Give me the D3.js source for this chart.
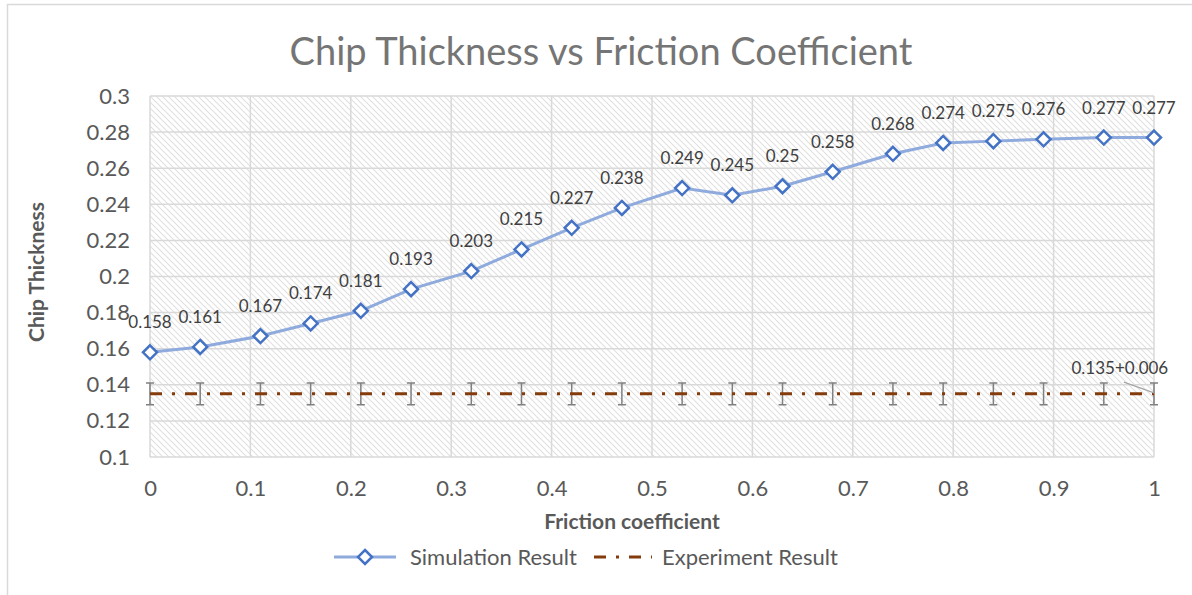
<!DOCTYPE html>
<meta charset='utf-8'>
<title>Chip Thickness vs Friction Coefficient</title>
<style>
body {
  margin: 0;
  background-color: #fff;
}
svg text {
  font-family: Lato, "Open Sans", sans-serif;
}
</style>
<svg width="1192" height="595"></svg>
<script src="https://d3js.org/d3.v7.min.js"></script>
<script>

// friction coefficients (x) and simulated chip thickness (y)
var friction = [0, 0.05, 0.11, 0.16, 0.21, 0.26, 0.32, 0.37, 0.42, 0.47,
                0.53, 0.58, 0.63, 0.68, 0.74, 0.79, 0.84, 0.89, 0.95, 1];
var simulation = [0.158, 0.161, 0.167, 0.174, 0.181, 0.193, 0.203, 0.215, 0.227, 0.238,
                  0.249, 0.245, 0.25, 0.258, 0.268, 0.274, 0.275, 0.276, 0.277, 0.277];
var experiment = friction.map(function() { return 0.135; });
var experimentError = 0.006;
var xTicks = [0, 0.1, 0.2, 0.3, 0.4, 0.5, 0.6, 0.7, 0.8, 0.9, 1];
var yTicks = [0.1, 0.12, 0.14, 0.16, 0.18, 0.2, 0.22, 0.24, 0.26, 0.28, 0.3];

var svg = d3.select("svg");

var plotLeft = 150, plotRight = 1154, plotTop = 96, plotBottom = 457;

var x = d3.scaleLinear().domain([0, 1]).range([plotLeft, plotRight]);
var y = d3.scaleLinear().domain([0.1, 0.3]).range([plotBottom, plotTop]);

// hatch fill for the plot area
var defs = svg.append("defs");
var hatch = defs.append("pattern")
    .attr("id", "hatch")
    .attr("patternUnits", "userSpaceOnUse")
    .attr("width", 6)
    .attr("height", 6);
hatch.append("rect").attr("width", 6).attr("height", 6).attr("fill", "#fff");
hatch.append("path")
    .attr("d", "M-1,-1L7,7M-4,2L2,8M4,-2L8,2")
    .attr("stroke", "#e0e0e0")
    .attr("stroke-width", 1.1);

// chart border (only the left/top edges are visible in the frame)
svg.append("rect")
    .attr("x", 7.5).attr("y", 4.5)
    .attr("width", 1200).attr("height", 600)
    .attr("fill", "#fff")
    .attr("stroke", "#d9d9d9")
    .attr("stroke-width", 1.5);

svg.append("rect")
    .attr("x", plotLeft).attr("y", plotTop)
    .attr("width", plotRight - plotLeft).attr("height", plotBottom - plotTop)
    .attr("fill", "url(#hatch)");

// gridlines
svg.append("g")
    .selectAll("line")
    .data(yTicks)
  .enter().append("line")
    .attr("x1", plotLeft).attr("x2", plotRight)
    .attr("y1", function(d) { return y(d); })
    .attr("y2", function(d) { return y(d); })
    .attr("stroke", "#d9d9d9")
    .attr("stroke-width", 1.5);

svg.append("g")
    .selectAll("line")
    .data(xTicks)
  .enter().append("line")
    .attr("y1", plotTop).attr("y2", plotBottom)
    .attr("x1", function(d) { return x(d); })
    .attr("x2", function(d) { return x(d); })
    .attr("stroke", "#d9d9d9")
    .attr("stroke-width", 1.5);

// axes (labels only)
var xAxis = svg.append("g")
    .attr("transform", "translate(0," + plotBottom + ")")
    .call(d3.axisBottom(x).tickValues(xTicks).tickSize(0).tickPadding(23).tickFormat(d3.format("")));
var yAxis = svg.append("g")
    .attr("transform", "translate(" + plotLeft + ",0)")
    .call(d3.axisLeft(y).tickValues(yTicks).tickSize(0).tickPadding(20).tickFormat(function(d) { return d3.format("")(+d.toFixed(2)); }));
[xAxis, yAxis].forEach(function(a) {
  a.select(".domain").remove();
  a.selectAll("text")
      .attr("fill", "#595959")
      .style("font-size", "22px")
      .style("font-family", "Lato, sans-serif");
});

// experiment line with error bars
var exp = svg.append("g");
exp.selectAll("path.err")
    .data(friction)
  .enter().append("path")
    .attr("class", "err")
    .attr("d", function(d, i) {
      var cx = x(d), y1 = y(experiment[i] + experimentError), y2 = y(experiment[i] - experimentError);
      return "M" + (cx - 4) + "," + y1 + "H" + (cx + 4) + "M" + cx + "," + y1 + "V" + y2 + "M" + (cx - 4) + "," + y2 + "H" + (cx + 4);
    })
    .attr("fill", "none")
    .attr("stroke", "#808080")
    .attr("stroke-width", 1.5);

exp.append("path")
    .datum(friction)
    .attr("d", d3.line()
        .x(function(d) { return x(d); })
        .y(function(d, i) { return y(experiment[i]); }))
    .attr("fill", "none")
    .attr("stroke", "#843c0c")
    .attr("stroke-width", 3)
    .attr("stroke-dasharray", "12,10,3,10");

// simulation line
svg.append("path")
    .datum(friction)
    .attr("d", d3.line()
        .x(function(d) { return x(d); })
        .y(function(d, i) { return y(simulation[i]); }))
    .attr("fill", "none")
    .attr("stroke", "#8faadc")
    .attr("stroke-width", 3);

var diamond = "M0,-7L7,0L0,7L-7,0Z";
svg.append("g")
    .selectAll("path")
    .data(friction)
  .enter().append("path")
    .attr("transform", function(d, i) { return "translate(" + x(d) + "," + y(simulation[i]) + ")"; })
    .attr("d", diamond)
    .attr("fill", "#fff")
    .attr("stroke", "#4472c4")
    .attr("stroke-width", 2.5);

// data labels
svg.append("g")
    .selectAll("text")
    .data(friction)
  .enter().append("text")
    .attr("x", function(d) { return x(d); })
    .attr("y", function(d, i) { return y(simulation[i]) - 24; })
    .attr("text-anchor", "middle")
    .attr("fill", "#404040")
    .style("font-size", "17px")
    .text(function(d, i) { return simulation[i]; });

// experiment annotation
svg.append("line")
    .attr("x1", x(0.97)).attr("y1", y(0.1415))
    .attr("x2", x(1)).attr("y2", y(0.1355))
    .attr("stroke", "#a6a6a6")
    .attr("stroke-width", 1.2);
svg.append("text")
    .attr("x", x(0.966))
    .attr("y", y(0.146))
    .attr("text-anchor", "middle")
    .attr("fill", "#404040")
    .style("font-size", "17px")
    .text("0.135+" + experimentError);

// title and axis titles
svg.append("text")
    .attr("x", 601).attr("y", 65)
    .attr("text-anchor", "middle")
    .attr("fill", "#757575")
    .style("font-size", "38px")
    .text("Chip Thickness vs Friction Coefficient");

svg.append("text")
    .attr("x", 632).attr("y", 529)
    .attr("text-anchor", "middle")
    .attr("fill", "#595959")
    .style("font-size", "21px")
    .style("font-weight", "bold")
    .text("Friction coefficient");

svg.append("text")
    .attr("transform", "translate(44,272) rotate(-90)")
    .attr("text-anchor", "middle")
    .attr("fill", "#595959")
    .style("font-size", "21px")
    .style("font-weight", "bold")
    .text("Chip Thickness");

// legend
var legend = svg.append("g").attr("transform", "translate(0,557)");
legend.append("line")
    .attr("x1", 334).attr("x2", 396)
    .attr("stroke", "#8faadc").attr("stroke-width", 3);
legend.append("path")
    .attr("transform", "translate(365,0)")
    .attr("d", diamond)
    .attr("fill", "#fff")
    .attr("stroke", "#4472c4")
    .attr("stroke-width", 2.5);
legend.append("text")
    .attr("x", 410).attr("dy", "0.35em")
    .attr("fill", "#595959")
    .style("font-size", "22px")
    .text("Simulation Result");
legend.append("line")
    .attr("x1", 594).attr("x2", 652)
    .attr("stroke", "#843c0c").attr("stroke-width", 3)
    .attr("stroke-dasharray", "12,10,3,10");
legend.append("text")
    .attr("x", 662).attr("dy", "0.35em")
    .attr("fill", "#595959")
    .style("font-size", "22px")
    .text("Experiment Result");
</script>
